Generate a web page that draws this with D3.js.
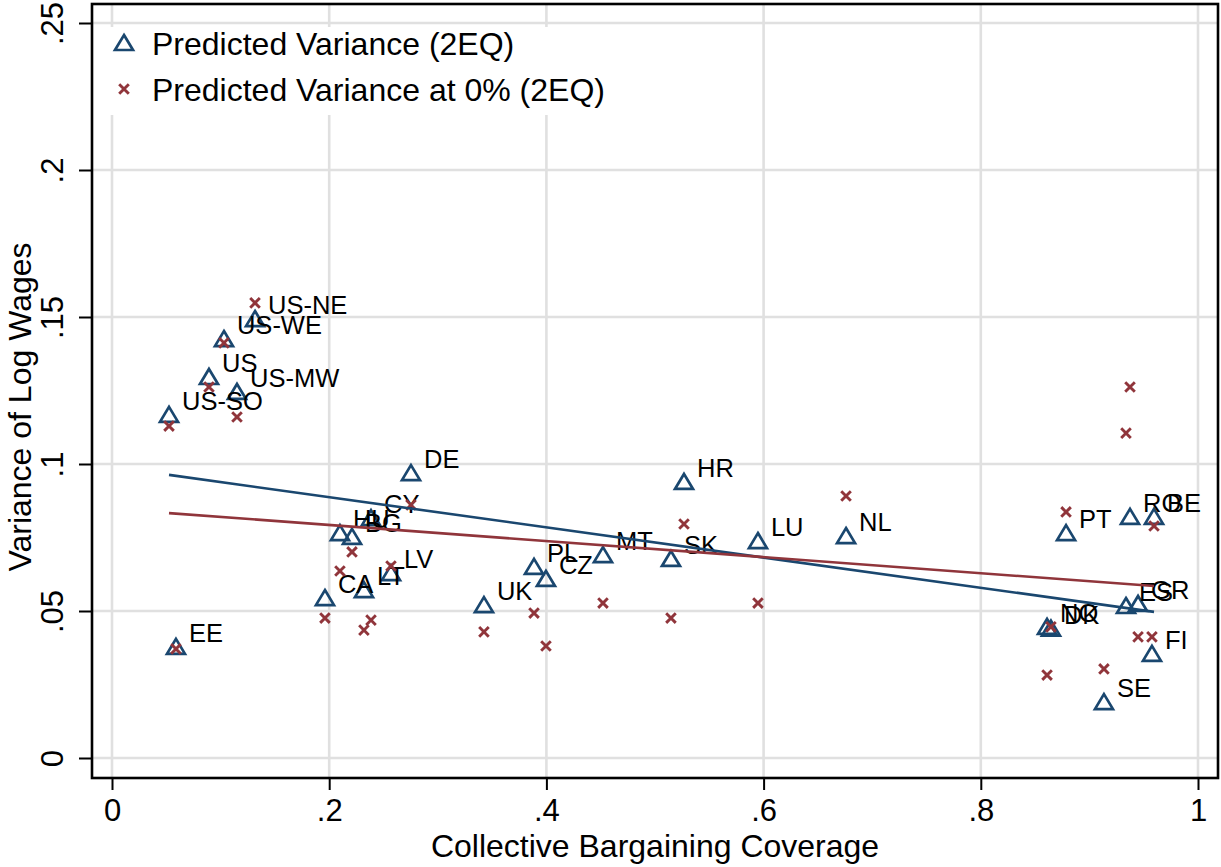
<!DOCTYPE html>
<html><head><meta charset="utf-8">
<script src="https://cdn.jsdelivr.net/npm/d3@7"></script>
<style>body{margin:0;background:#fff}svg{display:block}</style>
</head><body>
<svg id="c" width="1221" height="867"></svg>
<script>
// ---- data ----
const countries = ["US-NE","US-WE","US","US-MW","US-SO","EE","CA","HU","BG","CY","LT","LV","DE","UK","PL","CZ","MT","SK","HR","LU","NL","NO","DK","PT","SE","ES","RO","GR","FI","BE"];
const coverage  = [0.1317,0.1031,0.0893,0.1151,0.0525,0.0589,0.1961,0.2099,0.2210,0.2385,0.2320,0.2569,0.2753,0.3425,0.3886,0.3996,0.4521,0.5147,0.5267,0.5948,0.6759,0.8610,0.8646,0.8785,0.9134,0.9337,0.9374,0.9448,0.9576,0.9595];
const predVar   = [0.1493,0.1425,0.1296,0.1245,0.1167,0.0378,0.0544,0.0765,0.0752,0.0816,0.0571,0.0629,0.0969,0.0520,0.0650,0.0609,0.0690,0.0677,0.0939,0.0738,0.0755,0.0446,0.0440,0.0765,0.0190,0.0517,0.0820,0.0524,0.0354,0.0820];
const predVar0  = [0.1548,0.1412,0.1262,0.1160,0.1129,0.0371,0.0476,0.0636,0.0701,0.0469,0.0435,0.0653,0.0861,0.0429,0.0493,0.0381,0.0527,0.0476,0.0796,0.0527,0.0891,0.0282,0.0446,0.0837,0.0303,0.1105,0.1262,0.0412,0.0412,0.0789];
const fitX      = [0.0525, 0.9595];
const fitPred   = [0.0963, 0.0497];
const fitPred0  = [0.0833, 0.0585];
const xTicks = [0,0.2,0.4,0.6,0.8,1];
const xTickLabels = ["0",".2",".4",".6",".8","1"];
const yTicks = [0,0.05,0.1,0.15,0.2,0.25];
const yTickLabels = ["0",".05",".1",".15",".2",".25"];
const legendLabels = ["Predicted Variance (2EQ)","Predicted Variance at 0% (2EQ)"];
const xTitle = "Collective Bargaining Coverage";
const yTitle = "Variance of Log Wages";

// ---- style ----
const BLUE = "#1a476f", RED = "#90353b", GRID = "#e0e0e0";
const FONT = "'Liberation Sans', Arial, Helvetica, sans-serif";
const L = 92, R = 1218, T = 4, B = 778;

const svg = d3.select("#c").style("font-family", FONT);
const x = d3.scaleLinear().domain([0,1]).range([112,1198]);
const y = d3.scaleLinear().domain([0,0.25]).range([758,23]);

// grid
svg.append("g").selectAll("line").data(xTicks).join("line")
  .attr("x1", d=>x(d)).attr("x2", d=>x(d)).attr("y1", T).attr("y2", B)
  .attr("stroke", GRID).attr("stroke-width", 2.6);
svg.append("g").selectAll("line").data(yTicks).join("line")
  .attr("x1", L).attr("x2", R).attr("y1", d=>y(d)).attr("y2", d=>y(d))
  .attr("stroke", GRID).attr("stroke-width", 2.6);

// axes
const xa = svg.append("g").attr("transform", `translate(0,${B})`)
  .call(d3.axisBottom(x).tickValues(xTicks).tickFormat((d,i)=>xTickLabels[i]).tickSize(12));
xa.select(".domain").remove();
xa.selectAll("line").attr("stroke","#000").attr("stroke-width",2);
xa.selectAll("text").attr("y", 43).attr("dy", null).attr("font-size", 31).attr("fill","#000").attr("font-family", FONT);

const ya = svg.append("g").attr("transform", `translate(${L},0)`)
  .call(d3.axisLeft(y).tickValues(yTicks).tickFormat((d,i)=>yTickLabels[i]).tickSize(13));
ya.select(".domain").remove();
ya.selectAll("line").attr("stroke","#000").attr("stroke-width",2);
ya.selectAll("text").attr("x", 0).attr("y", 0).attr("dy", null)
  .attr("text-anchor","middle").attr("transform", `translate(${63-L},0) rotate(-90)`)
  .attr("font-size", 31).attr("fill","#000").attr("font-family", FONT);

// frame
svg.append("rect").attr("x", L).attr("y", T).attr("width", R-L).attr("height", B-T)
  .attr("fill","none").attr("stroke","#000").attr("stroke-width",2.6);

// titles
svg.append("text").attr("x", (L+R)/2).attr("y", 857).attr("text-anchor","middle")
  .attr("font-size", 32).text(xTitle);
svg.append("text").attr("transform", `translate(31,${(T+B)/2+16}) rotate(-90)`).attr("text-anchor","middle")
  .attr("font-size", 32).text(yTitle);

// markers
const triPath = "M0,-8L9,7L-9,7Z";
const crossPath = "M-4.8,-4.8L4.8,4.8M-4.8,4.8L4.8,-4.8";
const idx = d3.range(countries.length);

svg.append("g").selectAll("path").data(idx).join("path")
  .attr("d", triPath).attr("transform", i=>`translate(${x(coverage[i])},${y(predVar[i])})`)
  .attr("fill","none").attr("stroke", BLUE).attr("stroke-width", 2.7);

svg.append("g").selectAll("text").data(idx).join("text")
  .attr("x", i=>x(coverage[i])+13).attr("y", i=>y(predVar[i])-5)
  .attr("font-size", 25.5).attr("fill","#000").text(i=>countries[i]);

svg.append("g").selectAll("path").data(idx).join("path")
  .attr("d", crossPath).attr("transform", i=>`translate(${x(coverage[i])},${y(predVar0[i])})`)
  .attr("fill","none").attr("stroke", RED).attr("stroke-width", 2.9);

// fit lines
const line = d3.line().x(d=>x(d[0])).y(d=>y(d[1]));
svg.append("path").attr("d", line(fitX.map((v,i)=>[v, fitPred[i]])))
  .attr("fill","none").attr("stroke", BLUE).attr("stroke-width", 2.6);
svg.append("path").attr("d", line(fitX.map((v,i)=>[v, fitPred0[i]])))
  .attr("fill","none").attr("stroke", RED).attr("stroke-width", 2.6);

// legend
const lg = svg.append("g");
lg.append("rect").attr("x", 100).attr("y", 27).attr("width", 550).attr("height", 88).attr("fill","#fff");
lg.append("path").attr("d", triPath).attr("transform","translate(124,43)")
  .attr("fill","none").attr("stroke", BLUE).attr("stroke-width", 2.7);
lg.append("path").attr("d", crossPath).attr("transform","translate(124,89)")
  .attr("fill","none").attr("stroke", RED).attr("stroke-width", 2.9);
lg.selectAll("text").data(legendLabels).join("text")
  .attr("x", 152).attr("y", (d,i)=>55+i*46).attr("font-size", 32).text(d=>d);
</script>
</body></html>
